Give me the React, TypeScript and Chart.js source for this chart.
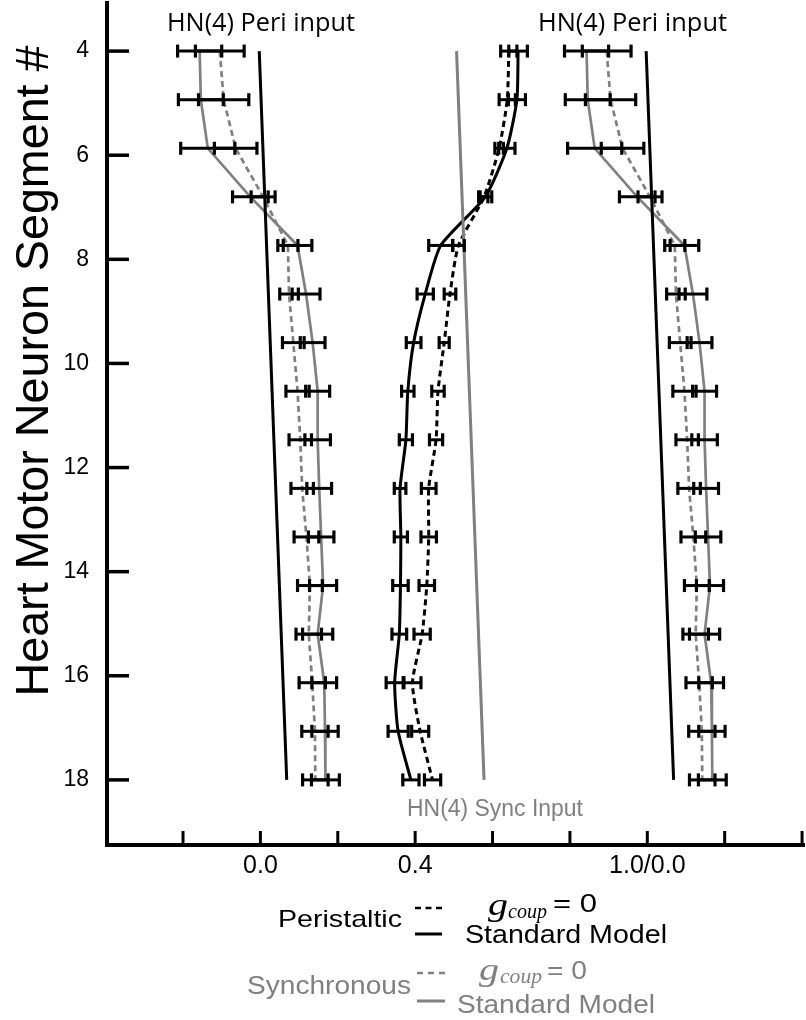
import React, { useEffect, useRef } from "react";
import { Chart, registerables } from "chart.js";

Chart.register(...registerables);

// ---------- data ----------
// row slots of the heart motor neuron rows, top to bottom
const rowSlots = [0, 1, 2, 3, 4, 5, 6, 7, 8, 9, 10, 11, 12, 13, 14, 15];
const segmentTickLabels = [4, 6, 8, 10, 12, 14, 16, 18];
const xTickValues = [-0.2, 0, 0.2, 0.4, 0.6, 0.8, 1.0, 1.2, 1.4];
const xTickLabels = ["", "0.0", "", "0.4", "", "", "1.0/0.0", "", ""];

// Synchronous (gray) – phase means and half-widths of error bars
const syncStandardMean = [-0.157, -0.154, -0.136, -0.026, 0.096, 0.118, 0.135, 0.148, 0.148, 0.152, 0.157, 0.162, 0.148, 0.165, 0.167, 0.168];
const syncStandardErr = [0.057, 0.058, 0.07, 0.046, 0.037, 0.036, 0.032, 0.031, 0.033, 0.032, 0.033, 0.035, 0.039, 0.032, 0.034, 0.036];
const syncUncoupledMean = [-0.105, -0.095, -0.064, 0.007, 0.071, 0.074, 0.085, 0.096, 0.103, 0.108, 0.119, 0.128, 0.125, 0.134, 0.141, 0.142];
const syncUncoupledErr = [0.063, 0.065, 0.055, 0.031, 0.026, 0.024, 0.028, 0.03, 0.029, 0.029, 0.032, 0.032, 0.033, 0.034, 0.034, 0.033];

// Peristaltic (black)
const periStandardMean = [0.666, 0.663, 0.637, 0.581, 0.466, 0.426, 0.396, 0.381, 0.376, 0.361, 0.363, 0.362, 0.359, 0.347, 0.356, 0.389];
const periStandardErr = [0.024, 0.022, 0.021, 0.017, 0.031, 0.021, 0.019, 0.016, 0.017, 0.015, 0.017, 0.02, 0.019, 0.022, 0.026, 0.021];
const periUncoupledMean = [0.642, 0.638, 0.617, 0.578, 0.512, 0.49, 0.475, 0.459, 0.454, 0.435, 0.435, 0.43, 0.418, 0.393, 0.413, 0.445];
const periUncoupledErr = [0.021, 0.021, 0.011, 0.01, 0.015, 0.015, 0.013, 0.016, 0.017, 0.019, 0.02, 0.02, 0.021, 0.022, 0.022, 0.021];

// HN(4) input phases at first and last row
const inputRows = [0, 15];
const periInputPhase = [-0.003, 0.068];
const syncInputPhase = [0.507, 0.578];

// phase 1.0 == phase 0.0 of the next cycle (right-hand repetition)
const PHASE_WRAP = 1.0;

// ---------- styles ----------
const BLACK = "#000000";
const GRAY = "#808080";
const SANS = '"Liberation Sans", Arial, sans-serif';
const SERIF = '"Liberation Serif", "Times New Roman", serif';

const pts = (xs: number[], ys: number[], shift = 0) => xs.map((x, i) => ({ x: x + shift, y: ys[i] }));

function fitText(ctx: CanvasRenderingContext2D, text: string, left: number, baseline: number, font: string, color: string, width?: number) {
  ctx.save();
  ctx.font = font;
  const w = ctx.measureText(text).width;
  const sx = width ? width / w : 1;
  ctx.translate(left, baseline);
  ctx.scale(sx, 1);
  ctx.fillStyle = color;
  ctx.textAlign = "left";
  ctx.textBaseline = "alphabetic";
  ctx.fillText(text, 0, 0);
  ctx.restore();
}

function seg(ctx: CanvasRenderingContext2D, x1: number, y1: number, x2: number, y2: number, color: string, width: number, dash: number[] = []) {
  ctx.save();
  ctx.strokeStyle = color;
  ctx.lineWidth = width;
  ctx.setLineDash(dash);
  ctx.beginPath();
  ctx.moveTo(x1, y1);
  ctx.lineTo(x2, y2);
  ctx.stroke();
  ctx.restore();
}

const errorSets = [
  { mean: syncStandardMean, err: syncStandardErr, shift: 0 },
  { mean: syncUncoupledMean, err: syncUncoupledErr, shift: 0 },
  { mean: syncStandardMean, err: syncStandardErr, shift: PHASE_WRAP },
  { mean: syncUncoupledMean, err: syncUncoupledErr, shift: PHASE_WRAP },
  { mean: periStandardMean, err: periStandardErr, shift: 0 },
  { mean: periUncoupledMean, err: periUncoupledErr, shift: 0 },
];

const decorPlugin = {
  id: "decor",
  afterDatasetsDraw(chart: any) {
    const ctx = chart.ctx as CanvasRenderingContext2D;
    const xs = chart.scales.x;
    const ys = chart.scales.y;
    // error bars
    errorSets.forEach((s) => {
      s.mean.forEach((m, i) => {
        const y = ys.getPixelForValue(rowSlots[i]);
        const x1 = xs.getPixelForValue(m + s.shift - s.err[i]);
        const x2 = xs.getPixelForValue(m + s.shift + s.err[i]);
        seg(ctx, x1, y, x2, y, BLACK, 3);
        seg(ctx, x1, y - 6.5, x1, y + 6.5, BLACK, 3.2);
        seg(ctx, x2, y - 6.5, x2, y + 6.5, BLACK, 3.2);
      });
    });
  },
  afterDraw(chart: any) {
    const ctx = chart.ctx as CanvasRenderingContext2D;
    const xs = chart.scales.x;
    const ys = chart.scales.y;
    const area = chart.chartArea;
    // inward tick marks
    ys.ticks.forEach((t: any) => {
      const p = ys.getPixelForValue(t.value);
      seg(ctx, area.left, p, area.left + 22, p, BLACK, 3.5);
    });
    xs.ticks.forEach((t: any) => {
      const p = xs.getPixelForValue(t.value);
      seg(ctx, p, area.bottom, p, area.bottom - 14, BLACK, 3);
    });

    // y title
    ctx.save();
    ctx.font = `47px ${SANS}`;
    const title = "Heart Motor Neuron Segment #";
    const tw = ctx.measureText(title).width;
    ctx.translate(48, 371);
    ctx.rotate(-Math.PI / 2);
    ctx.scale(651 / tw, 1);
    ctx.fillStyle = BLACK;
    ctx.textAlign = "center";
    ctx.textBaseline = "alphabetic";
    ctx.fillText(title, 0, 0);
    ctx.restore();

    // annotations
    fitText(ctx, "HN(4) Peri input", 167, 31, `25px "Open Sans", sans-serif`, BLACK, 188);
    fitText(ctx, "HN(4) Peri input", 538, 31, `25px "Open Sans", sans-serif`, BLACK, 189);
    fitText(ctx, "HN(4) Sync Input", 407, 816, `23px ${SANS}`, GRAY, 176);

    // legend – peristaltic
    fitText(ctx, "Peristaltic", 278, 927, `24px ${SANS}`, BLACK, 124);
    seg(ctx, 415, 908, 442, 908, BLACK, 2.5, [6, 4.5]);
    seg(ctx, 415, 934, 442, 934, BLACK, 3);
    fitText(ctx, "g", 488, 915, `italic 31px ${SERIF}`, BLACK, 20);
    fitText(ctx, "coup", 508, 918, `italic 21px ${SERIF}`, BLACK, 39);
    fitText(ctx, "= 0", 553, 912, `25px ${SANS}`, BLACK, 44);
    fitText(ctx, "Standard Model", 465, 943, `26px ${SANS}`, BLACK, 202);

    // legend – synchronous
    fitText(ctx, "Synchronous", 247, 994, `25px ${SANS}`, GRAY, 164);
    seg(ctx, 417, 973, 445, 973, GRAY, 2.5, [6, 5]);
    seg(ctx, 417, 1001, 445, 1001, GRAY, 3);
    fitText(ctx, "g", 479, 980, `italic 31px ${SERIF}`, GRAY, 20);
    fitText(ctx, "coup", 500, 983, `italic 21px ${SERIF}`, GRAY, 42);
    fitText(ctx, "= 0", 547, 979, `25px ${SANS}`, GRAY, 40);
    fitText(ctx, "Standard Model", 457, 1013, `26px ${SANS}`, GRAY, 198);
  },
};

export default function App() {
  const ref = useRef<HTMLCanvasElement>(null);
  useEffect(() => {
    const canvas = ref.current;
    if (!canvas) return;
    const yTickPos = (s: number) =>
      ((s - segmentTickLabels[0]) * (rowSlots.length - 1)) /
      (segmentTickLabels[segmentTickLabels.length - 1] - segmentTickLabels[0]);

    const chart = new Chart(canvas, {
      type: "line",
      data: {
        datasets: [
          { data: pts(periInputPhase, inputRows), borderColor: BLACK, borderWidth: 3 },
          { data: pts(periInputPhase, inputRows, PHASE_WRAP), borderColor: BLACK, borderWidth: 3 },
          { data: pts(syncInputPhase, inputRows), borderColor: GRAY, borderWidth: 3 },
          { data: pts(syncStandardMean, rowSlots), borderColor: GRAY, borderWidth: 2.7 },
          { data: pts(syncUncoupledMean, rowSlots), borderColor: GRAY, borderWidth: 2.7, borderDash: [6, 4] },
          { data: pts(syncStandardMean, rowSlots, PHASE_WRAP), borderColor: GRAY, borderWidth: 2.7 },
          { data: pts(syncUncoupledMean, rowSlots, PHASE_WRAP), borderColor: GRAY, borderWidth: 2.7, borderDash: [6, 4] },
          { data: pts(periStandardMean, rowSlots), borderColor: BLACK, borderWidth: 3, tension: 0.2 },
          { data: pts(periUncoupledMean, rowSlots), borderColor: BLACK, borderWidth: 3, borderDash: [6, 4], tension: 0.2 },
        ] as any,
      },
      options: {
        animation: false,
        responsive: false,
        devicePixelRatio: 1,
        indexAxis: "y",
        layout: { padding: { left: 0, right: 2, top: 3, bottom: 0 } },
        elements: { point: { radius: 0, hoverRadius: 0 }, line: { tension: 0, fill: false } },
        plugins: { legend: { display: false }, tooltip: { enabled: false } },
        scales: {
          x: {
            type: "linear",
            min: -0.3965,
            max: 1.405,
            grid: { display: false, drawTicks: false },
            border: { display: true, color: BLACK, width: 4 },
            afterBuildTicks: (scale: any) => {
              scale.ticks = xTickValues.map((v) => ({ value: v }));
            },
            afterFit: (scale: any) => {
              scale.height = 175;
              scale.paddingLeft = 0;
              scale.paddingRight = 0;
            },
            ticks: {
              autoSkip: false,
              maxRotation: 0,
              padding: 6,
              color: BLACK,
              font: { family: SANS, size: 25 },
              callback: (_v: any, i: number) => xTickLabels[i],
            },
          },
          y: {
            type: "linear",
            reverse: true,
            min: -0.99,
            max: 16.34,
            grid: { display: false, drawTicks: false },
            border: { display: true, color: BLACK, width: 4 },
            afterBuildTicks: (scale: any) => {
              scale.ticks = segmentTickLabels.map((s) => ({ value: yTickPos(s) }));
            },
            afterFit: (scale: any) => {
              scale.width = 107;
              scale.paddingTop = 0;
              scale.paddingBottom = 0;
            },
            ticks: {
              autoSkip: false,
              padding: 18,
              color: BLACK,
              font: { family: SANS, size: 23 },
              callback: (_v: any, i: number) => String(segmentTickLabels[i]),
            },
          },
        },
      } as any,
      plugins: [decorPlugin],
    });
    return () => chart.destroy();
  }, []);

  return (
    <div style={{ position: "absolute", left: 0, top: 0, width: 806, height: 1020, background: "#ffffff" }}>
      <canvas ref={ref} width={806} height={1020} style={{ display: "block", width: 806, height: 1020 }} />
    </div>
  );
}
